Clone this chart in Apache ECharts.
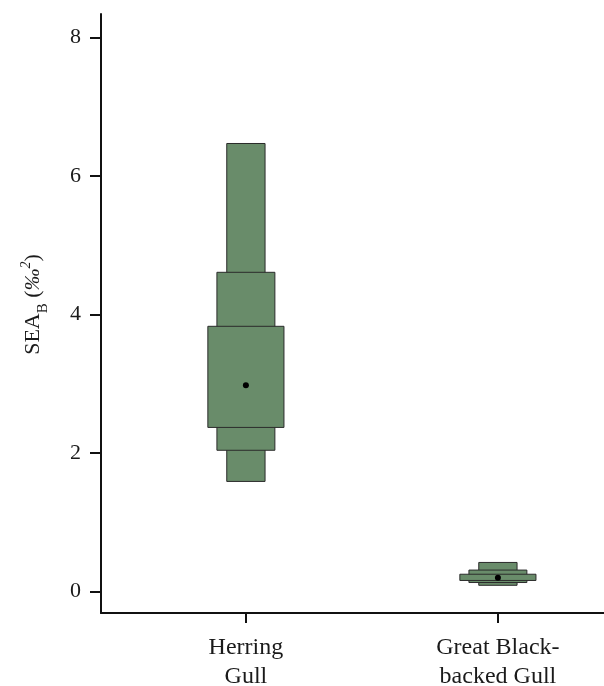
<!DOCTYPE html>
<html lang="en">
  <head>
    <meta charset="utf-8" />
    <title>SEA_B</title>
    <style>
      * {
        margin: 0;
        padding: 0;
      }

      #chart-container {
        position: relative;
        width: 604px;
        height: 686px;
        overflow: hidden;
        background: #fff;
      }
    </style>
  </head>

  <body>
    <div id="chart-container"></div>
    <script src="https://cdn.jsdelivr.net/npm/echarts@6/dist/echarts.min.js"></script>
    <script>
      // species on the x axis (positions 1, 2)
      var categories = ["Herring\nGull", "Great Black-\nbacked Gull"];
      var positions = [1, 2];
      // posterior mode and credible intervals of SEA_B
      var modes = [2.98, 0.2];
      var ci95Low = [1.59, 0.09];
      var ci95High = [6.47, 0.42];
      var ci75Low = [2.04, 0.13];
      var ci75High = [4.61, 0.31];
      var ci50Low = [2.37, 0.16];
      var ci50High = [3.83, 0.25];
      var yTicks = [0, 2, 4, 6, 8];

      var fill = "#698c6a";
      var font = "Liberation Serif";

      var seriesData = positions.map(function (p, i) {
        return [p, modes[i], ci95Low[i], ci95High[i], ci75Low[i], ci75High[i], ci50Low[i], ci50High[i]];
      });

      // half widths of the three boxes, in x axis units
      var halfWidths = [0.076, 0.115, 0.151];

      function renderItem(params, api) {
        var x = api.value(0);
        var children = [];
        for (var k = 0; k < 3; k++) {
          var lo = api.coord([x, api.value(2 + k * 2)]);
          var hi = api.coord([x, api.value(3 + k * 2)]);
          var w = api.size([halfWidths[k] * 2, 0])[0];
          children.push({
            type: "rect",
            shape: { x: lo[0] - w / 2, y: hi[1], width: w, height: lo[1] - hi[1] },
            style: { fill: fill, stroke: "#2b2b2b", lineWidth: 1 },
          });
        }
        var m = api.coord([x, api.value(1)]);
        children.push({
          type: "circle",
          shape: { cx: m[0], cy: m[1], r: 3 },
          style: { fill: "#000" },
        });
        return { type: "group", children: children };
      }

      var dom = document.getElementById("chart-container");
      var myChart = echarts.init(dom, null, { renderer: "canvas" });

      var option = {
        animation: false,
        grid: {
          left: 101,
          right: 0,
          top: 14,
          bottom: 73,
          outerBoundsMode: "none",
        },
        xAxis: {
          type: "value",
          min: 0.425,
          max: 2.421,
          splitLine: { show: false },
          axisLine: { onZero: false, lineStyle: { color: "#111", width: 2 } },
          axisTick: {
            customValues: positions,
            length: 10,
            lineStyle: { color: "#111", width: 2 },
          },
          axisLabel: {
            customValues: positions,
            margin: 20,
            fontFamily: font,
            fontSize: 24,
            lineHeight: 29,
            color: "#1a1a1a",
            formatter: function (v) {
              return categories[positions.indexOf(v)] || "";
            },
          },
        },
        yAxis: {
          type: "value",
          min: -0.31,
          max: 8.34,
          splitLine: { show: false },
          axisLine: { show: true, onZero: false, lineStyle: { color: "#111", width: 2 } },
          axisTick: {
            show: true,
            customValues: yTicks,
            length: 11,
            lineStyle: { color: "#111", width: 2 },
          },
          axisLabel: {
            customValues: yTicks,
            margin: 20,
            fontFamily: font,
            fontSize: 22,
            color: "#1a1a1a",
          },
          name: "{a|SEA}{b|B}{a| (}{i|‰}{s|2}{a|)}",
          nameLocation: "middle",
          nameGap: 54,
          nameTextStyle: {
            padding: [0, 0, 0, 18],
            rich: {
              a: { fontFamily: font, fontSize: 22, color: "#1a1a1a", lineHeight: 28 },
              b: { fontFamily: font, fontSize: 15, color: "#1a1a1a", verticalAlign: "bottom", lineHeight: 28, padding: [0, 0, -4, 0] },
              i: { fontFamily: font, fontSize: 22, color: "#1a1a1a", fontStyle: "italic", lineHeight: 28 },
              s: { fontFamily: font, fontSize: 14, color: "#1a1a1a", fontStyle: "italic", verticalAlign: "top", lineHeight: 26 },
            },
          },
        },
        series: [
          {
            type: "custom",
            renderItem: renderItem,
            encode: { x: 0, y: [1, 2, 3] },
            data: seriesData,
          },
        ],
      };

      myChart.setOption(option);
      window.addEventListener("resize", myChart.resize);
    </script>
  </body>
</html>
